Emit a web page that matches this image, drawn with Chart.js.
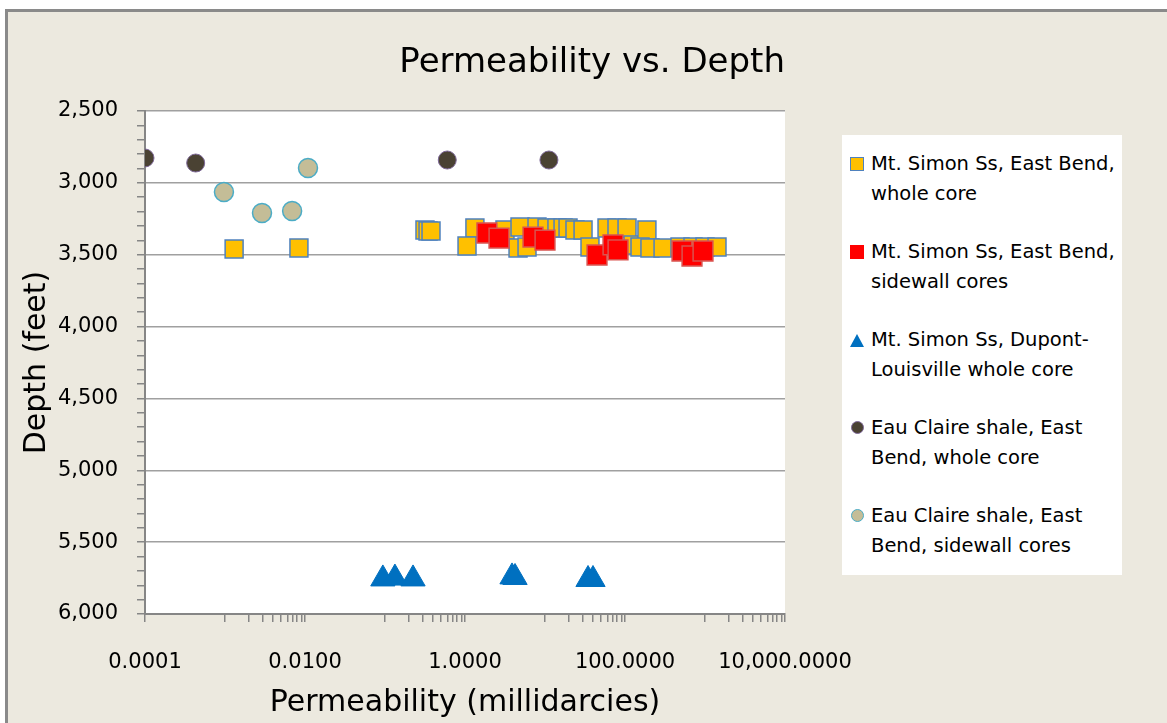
<!DOCTYPE html>
<html>
<head>
<meta charset="utf-8">
<title>Permeability vs. Depth</title>
<script src="https://cdn.jsdelivr.net/npm/chart.js@4.4.1/dist/chart.umd.min.js"></script>
<style>
  html, body { margin: 0; padding: 0; background: #fff; }
  #wrap { position: relative; width: 1167px; height: 723px; overflow: hidden; }
  #frame {
    position: absolute; left: 5px; top: 9px; width: 1200px; height: 760px;
    background: #ECE9DF; border-top: 3px solid #8a8a8a; border-left: 3px solid #8a8a8a;
  }
  #chart { position: absolute; left: 0; top: 0; }
  #legend {
    position: absolute; left: 842px; top: 135px; width: 280px; height: 440px;
    background: #fff; font-family: "DejaVu Sans", sans-serif; font-size: 19.5px;
    line-height: 30px; color: #000;
  }
  .item { position: absolute; left: 29px; white-space: nowrap; }
  .mk { position: absolute; left: -21px; top: 8px; box-sizing: border-box; }
</style>
</head>
<body>
<div id="wrap">
  <div id="frame"></div>
  <canvas id="chart" width="1167" height="723"></canvas>
  <div id="legend"></div>
</div>
<script>
// Mt. Simon Ss, East Bend, whole core (permeability md, depth ft)
const wholeCoreX = [0.0013, 0.0084, 0.316, 0.345, 0.376, 1.33, 1.06, 3.16, 4.60, 4.87, 5.96,
  7.94, 10.6, 14.1, 16.8, 19.4, 23.7, 29.9, 36.5, 59.6, 79.4, 106, 126, 188, 154, 205,
  299, 487, 708, 1000, 1413];
const wholeCoreY = [3460, 3453, 3328, 3335, 3335, 3314, 3439, 3328, 3453, 3307, 3446,
  3307, 3314, 3314, 3314, 3314, 3328, 3328, 3446, 3314, 3314, 3314, 3432, 3328, 3446, 3453,
  3453, 3446, 3446, 3446, 3446];

// Mt. Simon Ss, East Bend, sidewall cores
const sidewallX = [1.88, 2.66, 7.08, 10.0, 44.7, 70.8, 81.8, 516, 688, 944];
const sidewallY = [3349, 3384, 3377, 3398, 3502, 3432, 3467, 3474, 3509, 3474];

// Mt. Simon Ss, Dupont-Louisville whole core
const dupontX = [0.094, 0.133, 0.224, 3.87, 4.22, 34.5, 39.8];
const dupontY = [5756, 5750, 5756, 5742, 5746, 5760, 5760];

// Eau Claire shale, East Bend, whole core
const ecWholeX = [0.0001, 0.00043, 0.60, 11.2];
const ecWholeY = [2827, 2862, 2841, 2841];

// Eau Claire shale, East Bend, sidewall cores
const ecSideX = [0.00097, 0.0029, 0.0069, 0.0109];
const ecSideY = [3064, 3210, 3196, 2897];

const xTickValues = [0.0001, 0.01, 1, 100, 10000];
const xTickLabels = ['0.0001', '0.0100', '1.0000', '100.0000', '10,000.0000'];
const yTickValues = [2500, 3000, 3500, 4000, 4500, 5000, 5500, 6000];
const yTickLabels = ['2,500', '3,000', '3,500', '4,000', '4,500', '5,000', '5,500', '6,000'];

const seriesNames = [
  ['Mt. Simon Ss, East Bend,', 'whole core'],
  ['Mt. Simon Ss, East Bend,', 'sidewall cores'],
  ['Mt. Simon Ss, Dupont-', 'Louisville whole core'],
  ['Eau Claire shale, East', 'Bend, whole core'],
  ['Eau Claire shale, East', 'Bend, sidewall cores']
];

function toPoints(xs, ys) {
  return xs.map((x, i) => ({ x: x, y: ys[i] }));
}

const gray = '#868686';

// white plot area
const plotBg = {
  id: 'plotBg',
  beforeDraw(chart) {
    const a = chart.chartArea;
    chart.ctx.save();
    chart.ctx.fillStyle = '#fff';
    chart.ctx.fillRect(a.left, a.top, a.right - a.left, a.bottom - a.top);
    chart.ctx.restore();
  }
};

new Chart(document.getElementById('chart'), {
  type: 'scatter',
  data: {
    datasets: [
      {
        label: seriesNames[1].join(' '),
        data: toPoints(sidewallX, sidewallY),
        pointStyle: 'rect', pointRadius: 14,
        backgroundColor: '#FF0000', borderColor: '#D9534F', borderWidth: 1.5,
        order: 0
      },
      {
        label: seriesNames[0].join(' '),
        data: toPoints(wholeCoreX, wholeCoreY),
        pointStyle: 'rect', pointRadius: 12.7,
        backgroundColor: '#FFC000', borderColor: '#4F81BD', borderWidth: 1.5,
        order: 1
      },
      {
        label: seriesNames[2].join(' '),
        data: toPoints(dupontX, dupontY),
        pointStyle: 'triangle', pointRadius: 14,
        backgroundColor: '#0070C0', borderColor: '#0070C0', borderWidth: 1,
        order: 2
      },
      {
        label: seriesNames[3].join(' '),
        data: toPoints(ecWholeX, ecWholeY),
        pointStyle: 'circle', pointRadius: 9,
        backgroundColor: '#4A4233', borderColor: '#7F6A99', borderWidth: 1,
        order: 3
      },
      {
        label: seriesNames[4].join(' '),
        data: toPoints(ecSideX, ecSideY),
        pointStyle: 'circle', pointRadius: 9.5,
        backgroundColor: '#C4BD97', borderColor: '#4BACC6', borderWidth: 1.5,
        order: 4
      }
    ]
  },
  options: {
    responsive: false,
    animation: false,
    devicePixelRatio: 1,
    layout: { padding: { left: 0, right: 382, top: 0, bottom: 0 } },
    plugins: {
      legend: { display: false },
      tooltip: { enabled: false },
      title: {
        display: true,
        text: 'Permeability vs. Depth',
        align: 'end',
        color: '#000',
        font: { family: 'DejaVu Sans', size: 34, weight: 'normal', lineHeight: 1.2 },
        padding: { top: 43, bottom: 27.2 }
      }
    },
    scales: {
      x: {
        type: 'logarithmic',
        min: 0.0001,
        max: 10000,
        afterBuildTicks(scale) {
          const ticks = [];
          xTickValues.forEach((v, i) => {
            ticks.push({ value: v, lbl: xTickLabels[i] });
            if (i < xTickValues.length - 1) {
              for (let k = 1; k <= 9; k++) ticks.push({ value: v * 10 * k, lbl: '' });
            }
          });
          scale.ticks = ticks;
        },
        afterFit(scale) { scale.height = 109; },
        ticks: {
          autoSkip: false,
          maxRotation: 0,
          padding: 28,
          color: '#000',
          font: { family: 'DejaVu Sans', size: 21 },
          callback: (v, i, ticks) => ticks[i].lbl
        },
        grid: { drawOnChartArea: false, drawTicks: true, tickLength: 8, tickColor: gray, lineWidth: 1.5 },
        border: { display: true, color: gray, width: 2 },
        title: {
          display: true,
          text: 'Permeability (millidarcies)',
          color: '#000',
          font: { family: 'DejaVu Sans', size: 30, lineHeight: 1.2 },
          padding: { top: 0, bottom: 2 }
        }
      },
      y: {
        type: 'linear',
        reverse: true,
        min: 2500,
        max: 6000,
        afterBuildTicks(scale) {
          const ticks = [];
          for (let v = 2500; v <= 6000; v += 100) {
            const j = yTickValues.indexOf(v);
            ticks.push({ value: v, lbl: j >= 0 ? yTickLabels[j] : '' });
          }
          scale.ticks = ticks;
        },
        afterFit(scale) { scale.width = 145; },
        ticks: {
          autoSkip: false,
          padding: 19,
          color: '#000',
          font: { family: 'DejaVu Sans', size: 21 },
          callback: (v, i, ticks) => ticks[i].lbl
        },
        grid: {
          drawTicks: true,
          tickLength: 8,
          tickColor: gray,
          lineWidth: 1.5,
          color: (ctx) => (ctx.tick && ctx.tick.value % 500 === 0 ? '#A0A0A0' : 'rgba(0,0,0,0)')
        },
        border: { display: true, color: gray, width: 2 },
        title: {
          display: true,
          text: 'Depth (feet)',
          color: '#000',
          font: { family: 'DejaVu Sans', size: 30, lineHeight: 1.2 },
          padding: { top: 19, bottom: 0 }
        }
      }
    }
  },
  plugins: [plotBg]
});

// legend box (HTML), same order as the reference
const legendMarks = [
  'width:14px;height:14px;background:#FFC000;border:1.5px solid #4F81BD;',
  'width:14px;height:14px;background:#FF0000;',
  'width:0;height:0;border-left:7px solid transparent;border-right:7px solid transparent;border-bottom:13px solid #0070C0;top:9px;',
  'width:13px;height:13px;border-radius:50%;background:#4A4233;border:1px solid #7F6A99;left:-20.5px;',
  'width:13px;height:13px;border-radius:50%;background:#C4BD97;border:1.5px solid #4BACC6;left:-20.5px;'
];
const legendTops = [14, 102, 190, 278, 366];
const legendEl = document.getElementById('legend');
seriesNames.forEach((lines, i) => {
  const item = document.createElement('div');
  item.className = 'item';
  item.style.top = legendTops[i] + 'px';
  const mk = document.createElement('div');
  mk.className = 'mk';
  mk.style.cssText += legendMarks[i];
  item.appendChild(mk);
  lines.forEach((t, j) => {
    if (j > 0) item.appendChild(document.createElement('br'));
    item.appendChild(document.createTextNode(t));
  });
  legendEl.appendChild(item);
});
</script>
</body>
</html>
